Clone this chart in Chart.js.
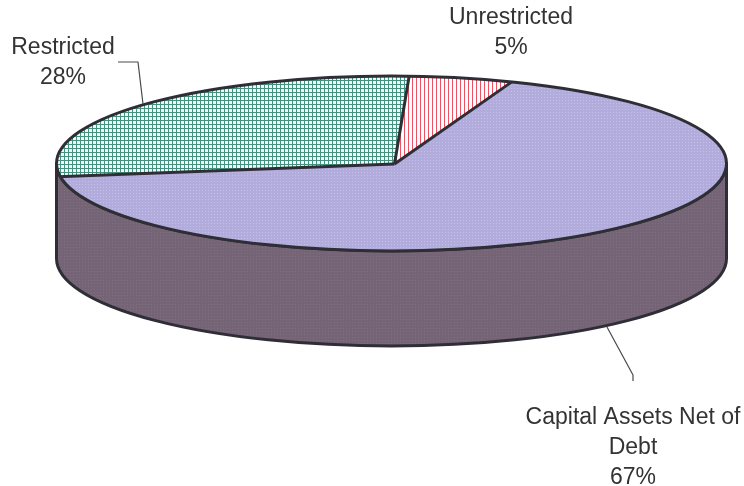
<!DOCTYPE html>
<html>
<head>
<meta charset="utf-8">
<title>Net Position</title>
<script src="https://cdn.jsdelivr.net/npm/chart.js@4"></script>
<style>
    html, body { margin: 0; padding: 0; background: #fff; }
    canvas { display: block; }
</style>
</head>
<body>
<canvas id="pieChart" width="744" height="486"></canvas>
<script>
const categories = ['Capital Assets Net of Debt', 'Restricted', 'Unrestricted'];
const values = [67, 28, 5];
const labelLines = [['Capital Assets Net of', 'Debt', '67%'], ['Restricted', '28%'], ['Unrestricted', '5%']];

// where the flattened pie sits on the page
const pie = { x: 391.5, y: 163.5, rx: 335, ry: 87.5, depth: 95 };
// slices meet a little right of the rim's centre, so they are drawn larger and clipped to the rim
const apex = { x: 394.5, y: 164, rx: 340, ry: 89 };
const labelPos = [{ x: 633, y: 418 }, { x: 63, y: 48 }, { x: 511, y: 18 }];
const leaders = [
    [[607, 327], [633, 375], [633, 381]],
    [[118, 62], [138, 62], [143, 104]]
];
const lineColor = '#2f2e36';

// little repeating tiles for the hatch fills
function makeTile(size, bg, fg, isFg) {
    const c = document.createElement('canvas');
    c.width = size;
    c.height = size;
    const g = c.getContext('2d');
    g.fillStyle = bg;
    g.fillRect(0, 0, size, size);
    g.fillStyle = fg;
    for (let i = 0; i < size; i++) {
        for (let j = 0; j < size; j++) {
            if (isFg(i, j)) g.fillRect(i, j, 1, 1);
        }
    }
    return g.createPattern(c, 'repeat');
}

const ctxBase = document.getElementById('pieChart').getContext('2d');
const lavender = makeTile(3, '#b1acdc', '#c3bfe6', function(i, j) { return i === 1 && j === 1; });
const grid = makeTile(4, '#f0f7f4', '#45917f', function(i, j) { return i === 0 || j === 0; });
const stripes = makeTile(4, '#ffffff', '#ee5062', function(i, j) { return i === 0; });
const wallFill = makeTile(3, '#746476', '#806f83', function(i, j) { return i === 1 && j === 1; });

function rimPath(ctx) {
    ctx.beginPath();
    ctx.ellipse(pie.x, pie.y, pie.rx, pie.ry, 0, 0, Math.PI * 2);
}

const flatPie = {
    id: 'flatPie',
    beforeDatasetsDraw(chart) {
        const ctx = chart.ctx;
        const first = chart.getDatasetMeta(0).data[0];

        // side wall of the disc
        ctx.save();
        ctx.beginPath();
        ctx.moveTo(pie.x + pie.rx, pie.y);
        ctx.lineTo(pie.x + pie.rx, pie.y + pie.depth);
        ctx.ellipse(pie.x, pie.y + pie.depth, pie.rx, pie.ry, 0, 0, Math.PI);
        ctx.lineTo(pie.x - pie.rx, pie.y);
        ctx.ellipse(pie.x, pie.y, pie.rx, pie.ry, 0, Math.PI, 0, true);
        ctx.closePath();
        ctx.fillStyle = wallFill;
        ctx.fill();
        ctx.strokeStyle = lineColor;
        ctx.lineWidth = 3;
        ctx.lineJoin = 'round';
        ctx.stroke();
        ctx.restore();

        // squash the round pie into the ellipse, patterns stay pixel sized
        ctx.save();
        rimPath(ctx);
        ctx.clip();
        ctx.translate(apex.x, apex.y);
        ctx.scale(apex.rx / first.outerRadius, apex.ry / first.outerRadius);
        ctx.translate(-first.x, -first.y);
        const inverse = ctx.getTransform().inverse();
        [lavender, grid, stripes].forEach(function(p) { p.setTransform(inverse); });
    },
    afterDatasetsDraw(chart) {
        const ctx = chart.ctx;
        ctx.restore();

        // slice edges in page space so the line width stays even
        ctx.save();
        ctx.strokeStyle = lineColor;
        ctx.lineWidth = 3;
        ctx.lineJoin = 'round';
        ctx.save();
        rimPath(ctx);
        ctx.clip();
        chart.getDatasetMeta(0).data.forEach(function(el) {
            ctx.beginPath();
            ctx.moveTo(apex.x, apex.y);
            ctx.lineTo(apex.x + apex.rx * Math.cos(el.startAngle), apex.y + apex.ry * Math.sin(el.startAngle));
            ctx.stroke();
        });
        ctx.restore();
        rimPath(ctx);
        ctx.stroke();

        ctx.strokeStyle = '#4a4a4a';
        ctx.lineWidth = 1.2;
        leaders.forEach(function(points) {
            ctx.beginPath();
            points.forEach(function(p, i) {
                if (i === 0) ctx.moveTo(p[0], p[1]);
                else ctx.lineTo(p[0], p[1]);
            });
            ctx.stroke();
        });

        ctx.fillStyle = '#333333';
        ctx.font = '23px "Liberation Sans", Arial, sans-serif';
        ctx.textAlign = 'center';
        ctx.textBaseline = 'middle';
        labelLines.forEach(function(lines, i) {
            lines.forEach(function(line, n) {
                ctx.fillText(line, labelPos[i].x, labelPos[i].y + n * 29.7);
            });
        });
        ctx.restore();
    }
};

new Chart(ctxBase, {
    type: 'pie',
    data: {
        labels: categories,
        datasets: [{
            data: values,
            backgroundColor: [lavender, grid, stripes],
            borderWidth: 0,
            clip: false
        }]
    },
    options: {
        responsive: false,
        animation: false,
        rotation: 20.5,
        plugins: {
            legend: { display: false },
            tooltip: { enabled: false }
        }
    },
    plugins: [flatPie]
});
</script>
</body>
</html>
